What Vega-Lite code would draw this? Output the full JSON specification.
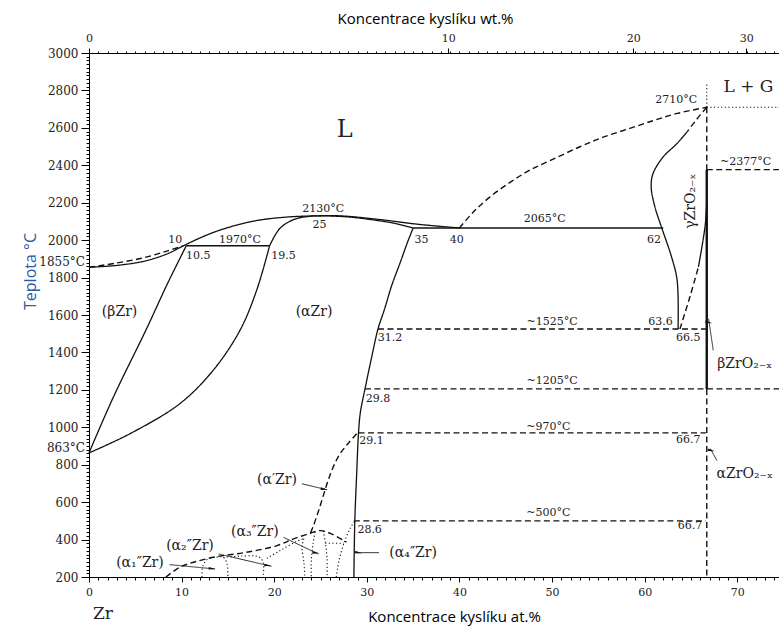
{
"$schema":"https://vega.github.io/schema/vega-lite/v6.json",
"width":690,"height":524,"autosize":"none",
"padding":{"left":89,"top":53,"right":0,"bottom":53},
"background":"white",
"config":{"view":{"stroke":null},"axis":{"grid":false,"domainColor":"#000","tickColor":"#000","labelFont":"DejaVu Serif","labelColor":"#222","titleFont":"Open Sans","titleFontWeight":"normal","titleColor":"#000","labelOverlap":false,"labelBound":false}},
"datasets":{
"lines":[
{"id":"liq0","s":"dashed","x":0,"T":1855,"o":1},{"id":"liq0","s":"dashed","x":3,"T":1878,"o":2},{"id":"liq0","s":"dashed","x":6,"T":1907,"o":3},{"id":"liq0","s":"dashed","x":8.5,"T":1943,"o":4},{"id":"liq0","s":"dashed","x":10.2,"T":1970,"o":5},
{"id":"liqA","s":"solid","x":0,"T":1855,"o":1},{"id":"liqA","s":"solid","x":3,"T":1865,"o":2},{"id":"liqA","s":"solid","x":6,"T":1888,"o":3},{"id":"liqA","s":"solid","x":8.5,"T":1928,"o":4},{"id":"liqA","s":"solid","x":10.2,"T":1970,"o":5},{"id":"liqA","s":"solid","x":12,"T":2012,"o":6},{"id":"liqA","s":"solid","x":14.1,"T":2053,"o":7},{"id":"liqA","s":"solid","x":17.7,"T":2101,"o":8},{"id":"liqA","s":"solid","x":21,"T":2122,"o":9},{"id":"liqA","s":"solid","x":24,"T":2129,"o":10},{"id":"liqA","s":"solid","x":27,"T":2130,"o":11},{"id":"liqA","s":"solid","x":31.4,"T":2110,"o":12},{"id":"liqA","s":"solid","x":35.5,"T":2085,"o":13},{"id":"liqA","s":"solid","x":40,"T":2065,"o":14},
{"id":"solA","s":"solid","x":19.5,"T":1970,"o":1},{"id":"solA","s":"solid","x":20.6,"T":2062,"o":2},{"id":"solA","s":"solid","x":22.1,"T":2110,"o":3},{"id":"solA","s":"solid","x":23.9,"T":2128,"o":4},{"id":"solA","s":"solid","x":25,"T":2130,"o":5},{"id":"solA","s":"solid","x":28,"T":2124,"o":6},{"id":"solA","s":"solid","x":31,"T":2106,"o":7},{"id":"solA","s":"solid","x":33,"T":2090,"o":8},{"id":"solA","s":"solid","x":35,"T":2065,"o":9},
{"id":"betaU","s":"solid","x":0,"T":863,"o":1},{"id":"betaU","s":"solid","x":2.6,"T":1158,"o":2},{"id":"betaU","s":"solid","x":6.2,"T":1525,"o":3},{"id":"betaU","s":"solid","x":8.4,"T":1760,"o":4},{"id":"betaU","s":"solid","x":10.5,"T":1970,"o":5},
{"id":"betaL","s":"solid","x":0,"T":863,"o":1},{"id":"betaL","s":"solid","x":4.4,"T":965,"o":2},{"id":"betaL","s":"solid","x":9.8,"T":1126,"o":3},{"id":"betaL","s":"solid","x":13.4,"T":1304,"o":4},{"id":"betaL","s":"solid","x":16.3,"T":1518,"o":5},{"id":"betaL","s":"solid","x":18.1,"T":1732,"o":6},{"id":"betaL","s":"solid","x":19.5,"T":1970,"o":7},
{"id":"alphaR","s":"solid","x":35,"T":2065,"o":1},{"id":"alphaR","s":"solid","x":34.4,"T":1990,"o":2},{"id":"alphaR","s":"solid","x":33.6,"T":1880,"o":3},{"id":"alphaR","s":"solid","x":32.7,"T":1760,"o":4},{"id":"alphaR","s":"solid","x":31.9,"T":1630,"o":5},{"id":"alphaR","s":"solid","x":31.2,"T":1525,"o":6},{"id":"alphaR","s":"solid","x":30.5,"T":1370,"o":7},{"id":"alphaR","s":"solid","x":29.8,"T":1205,"o":8},{"id":"alphaR","s":"solid","x":29.3,"T":1080,"o":9},{"id":"alphaR","s":"solid","x":29.1,"T":970,"o":10},{"id":"alphaR","s":"solid","x":28.9,"T":750,"o":11},{"id":"alphaR","s":"solid","x":28.7,"T":500,"o":12},{"id":"alphaR","s":"solid","x":28.6,"T":200,"o":13},
{"id":"h1970","s":"solid","x":10.5,"T":1970,"o":1},{"id":"h1970","s":"solid","x":19.5,"T":1970,"o":2},
{"id":"h2065","s":"solid","x":35,"T":2065,"o":1},{"id":"h2065","s":"solid","x":62,"T":2065,"o":2},
{"id":"h1525","s":"dashed","x":31.2,"T":1525,"o":1},{"id":"h1525","s":"dashed","x":66.6,"T":1525,"o":2},
{"id":"h1205","s":"dashed","x":29.8,"T":1205,"o":1},{"id":"h1205","s":"dashed","x":74.5,"T":1205,"o":2},
{"id":"h970","s":"dashed","x":29.1,"T":970,"o":1},{"id":"h970","s":"dashed","x":66.6,"T":970,"o":2},
{"id":"h500","s":"dashed","x":28.6,"T":500,"o":1},{"id":"h500","s":"dashed","x":66.6,"T":500,"o":2},
{"id":"h2377","s":"dashed","x":66.7,"T":2377,"o":1},{"id":"h2377","s":"dashed","x":74.5,"T":2377,"o":2},
{"id":"h2710","s":"dotted","x":66.7,"T":2710,"o":1},{"id":"h2710","s":"dotted","x":74.5,"T":2710,"o":2},
{"id":"vtop","s":"dotted","x":66.7,"T":2710,"o":1},{"id":"vtop","s":"dotted","x":66.7,"T":2840,"o":2},
{"id":"liqR","s":"dashed","x":40,"T":2065,"o":1},{"id":"liqR","s":"dashed","x":41.5,"T":2150,"o":2},{"id":"liqR","s":"dashed","x":43.3,"T":2231,"o":3},{"id":"liqR","s":"dashed","x":45.5,"T":2310,"o":4},{"id":"liqR","s":"dashed","x":47.6,"T":2374,"o":5},{"id":"liqR","s":"dashed","x":50,"T":2430,"o":6},{"id":"liqR","s":"dashed","x":53,"T":2499,"o":7},{"id":"liqR","s":"dashed","x":55.5,"T":2550,"o":8},{"id":"liqR","s":"dashed","x":58.4,"T":2597,"o":9},{"id":"liqR","s":"dashed","x":61,"T":2640,"o":10},{"id":"liqR","s":"dashed","x":63.5,"T":2677,"o":11},{"id":"liqR","s":"dashed","x":66.7,"T":2710,"o":12},
{"id":"gLd","s":"dashed","x":66.7,"T":2710,"o":1},{"id":"gLd","s":"dashed","x":65.6,"T":2645,"o":2},{"id":"gLd","s":"dashed","x":64.6,"T":2580,"o":3},
{"id":"gL","s":"solid","x":64.6,"T":2580,"o":1},{"id":"gL","s":"solid","x":63.5,"T":2517,"o":2},{"id":"gL","s":"solid","x":62.0,"T":2445,"o":3},{"id":"gL","s":"solid","x":60.9,"T":2356,"o":4},{"id":"gL","s":"solid","x":60.7,"T":2285,"o":5},{"id":"gL","s":"solid","x":61.1,"T":2178,"o":6},{"id":"gL","s":"solid","x":61.8,"T":2071,"o":7},{"id":"gL","s":"solid","x":62.9,"T":1910,"o":8},{"id":"gL","s":"solid","x":63.5,"T":1786,"o":9},{"id":"gL","s":"solid","x":63.6,"T":1525,"o":10},
{"id":"gRd","s":"dashed","x":63.8,"T":1525,"o":1},{"id":"gRd","s":"dashed","x":64.9,"T":1700,"o":2},{"id":"gRd","s":"dashed","x":65.8,"T":1857,"o":3},
{"id":"gR","s":"solid","x":65.8,"T":1857,"o":1},{"id":"gR","s":"solid","x":66.3,"T":2000,"o":2},{"id":"gR","s":"solid","x":66.55,"T":2089,"o":3},{"id":"gR","s":"solid","x":66.7,"T":2200,"o":4},
{"id":"v1","s":"dashed","x":66.7,"T":2710,"o":1},{"id":"v1","s":"dashed","x":66.7,"T":2377,"o":2},
{"id":"v2","s":"thick","x":66.7,"T":2377,"o":1},{"id":"v2","s":"thick","x":66.7,"T":1205,"o":2},
{"id":"v3","s":"dashed","x":66.7,"T":1205,"o":1},{"id":"v3","s":"dashed","x":66.7,"T":200,"o":2},
{"id":"A","s":"dashed","x":8.3,"T":200,"o":1},{"id":"A","s":"dashed","x":9.8,"T":252,"o":2},{"id":"A","s":"dashed","x":11.3,"T":279,"o":3},{"id":"A","s":"dashed","x":13.8,"T":309,"o":4},{"id":"A","s":"dashed","x":17.0,"T":332,"o":5},{"id":"A","s":"dashed","x":20.3,"T":368,"o":6},{"id":"A","s":"dashed","x":22.1,"T":404,"o":7},{"id":"A","s":"dashed","x":23.9,"T":434,"o":8},{"id":"A","s":"dashed","x":25.0,"T":448,"o":9},{"id":"A","s":"dashed","x":26.2,"T":430,"o":10},{"id":"A","s":"dashed","x":27.8,"T":386,"o":11},
{"id":"ap","s":"dashed","x":28.9,"T":965,"o":1},{"id":"ap","s":"dashed","x":28.0,"T":915,"o":2},{"id":"ap","s":"dashed","x":27.1,"T":858,"o":3},{"id":"ap","s":"dashed","x":26.3,"T":780,"o":4},{"id":"ap","s":"dashed","x":25.7,"T":698,"o":5},{"id":"ap","s":"dashed","x":24.8,"T":555,"o":6},{"id":"ap","s":"dashed","x":24.2,"T":470,"o":7},{"id":"ap","s":"dashed","x":23.9,"T":434,"o":8},
{"id":"D1","s":"dotted","x":12.2,"T":200,"o":1},{"id":"D1","s":"dotted","x":12.3,"T":260,"o":2},{"id":"D1","s":"dotted","x":12.8,"T":295,"o":3},{"id":"D1","s":"dotted","x":13.6,"T":305,"o":4},{"id":"D1","s":"dotted","x":14.5,"T":305,"o":5},{"id":"D1","s":"dotted","x":14.9,"T":270,"o":6},{"id":"D1","s":"dotted","x":15.0,"T":200,"o":7},
{"id":"D2","s":"dotted","x":14.5,"T":305,"o":1},{"id":"D2","s":"dotted","x":16.5,"T":312,"o":2},{"id":"D2","s":"dotted","x":18.3,"T":308,"o":3},{"id":"D2","s":"dotted","x":18.8,"T":280,"o":4},{"id":"D2","s":"dotted","x":18.8,"T":200,"o":5},
{"id":"D3","s":"dotted","x":19.2,"T":300,"o":1},{"id":"D3","s":"dotted","x":20.6,"T":340,"o":2},{"id":"D3","s":"dotted","x":22.4,"T":390,"o":3},{"id":"D3","s":"dotted","x":23.2,"T":405,"o":4},
{"id":"D4","s":"dotted","x":23.2,"T":405,"o":1},{"id":"D4","s":"dotted","x":23.0,"T":360,"o":2},{"id":"D4","s":"dotted","x":23.2,"T":280,"o":3},{"id":"D4","s":"dotted","x":23.3,"T":200,"o":4},
{"id":"D5","s":"dotted","x":24.4,"T":440,"o":1},{"id":"D5","s":"dotted","x":24.2,"T":380,"o":2},{"id":"D5","s":"dotted","x":24.0,"T":290,"o":3},{"id":"D5","s":"dotted","x":24.0,"T":200,"o":4},
{"id":"D6","s":"dotted","x":25.3,"T":446,"o":1},{"id":"D6","s":"dotted","x":25.5,"T":390,"o":2},{"id":"D6","s":"dotted","x":25.7,"T":300,"o":3},{"id":"D6","s":"dotted","x":25.7,"T":200,"o":4},
{"id":"D7","s":"dotted","x":26.7,"T":200,"o":1},{"id":"D7","s":"dotted","x":27.0,"T":290,"o":2},{"id":"D7","s":"dotted","x":27.6,"T":390,"o":3},{"id":"D7","s":"dotted","x":28.2,"T":460,"o":4},{"id":"D7","s":"dotted","x":28.7,"T":500,"o":5},
{"id":"D8","s":"dotted","x":25.5,"T":380,"o":1},{"id":"D8","s":"dotted","x":27.5,"T":380,"o":2},
{"id":"a1","s":"arrow","x":8.7,"T":266,"o":1},{"id":"a1","s":"arrow","x":13.6,"T":243,"o":2},
{"id":"a2","s":"arrow","x":14.0,"T":323,"o":1},{"id":"a2","s":"arrow","x":19.7,"T":257,"o":2},
{"id":"a3","s":"arrow","x":21.0,"T":412,"o":1},{"id":"a3","s":"arrow","x":24.75,"T":323,"o":2},
{"id":"ap2","s":"arrow","x":23.0,"T":698,"o":1},{"id":"ap2","s":"arrow","x":25.7,"T":666,"o":2},
{"id":"a4","s":"arrow","x":31.3,"T":330,"o":1},{"id":"a4","s":"arrow","x":28.8,"T":330,"o":2},
{"id":"ab","s":"arrow","x":67.4,"T":1411,"o":1},{"id":"ab","s":"arrow","x":66.9,"T":1580,"o":2},
{"id":"aa","s":"arrow","x":67.8,"T":822,"o":1},{"id":"aa","s":"arrow","x":67.1,"T":885,"o":2}
],
"heads":[
{"id":"a1","x":13.3,"T":245},{"id":"a2","x":19.3,"T":262},{"id":"a3","x":24.5,"T":329},{"id":"ap2","x":25.4,"T":669},{"id":"a4","x":29.1,"T":330},{"id":"ab","x":66.93,"T":1560},{"id":"aa","x":67.2,"T":876}
],
"nums":[
{"t":"2710°C","x":63.4,"T":2749},{"t":"~2377°C","x":70.9,"T":2420},{"t":"2130°C","x":25.3,"T":2165},{"t":"25","x":24.9,"T":2080},{"t":"10","x":9.3,"T":2003},{"t":"10.5","x":11.8,"T":1914},{"t":"1970°C","x":16.3,"T":2000},{"t":"19.5","x":21.0,"T":1914},{"t":"35","x":35.9,"T":2003},{"t":"40","x":39.7,"T":2003},{"t":"2065°C","x":49.2,"T":2112},{"t":"62","x":61.0,"T":2000},{"t":"~1525°C","x":50.0,"T":1563},{"t":"31.2","x":32.5,"T":1477},{"t":"63.6","x":61.7,"T":1563},{"t":"66.5","x":64.7,"T":1477},{"t":"~1205°C","x":50.0,"T":1245},{"t":"29.8","x":31.2,"T":1153},{"t":"~970°C","x":49.6,"T":1004},{"t":"29.1","x":30.5,"T":925},{"t":"66.7","x":64.7,"T":930},{"t":"~500°C","x":49.6,"T":541},{"t":"28.6","x":30.3,"T":450},{"t":"66.7","x":64.9,"T":470}
],
"phases":[
{"t":"(βZr)","x":3.3,"T":1615},{"t":"(αZr)","x":24.3,"T":1615},{"t":"βZrO₂₋ₓ","x":70.8,"T":1340},{"t":"αZrO₂₋ₓ","x":70.8,"T":752},{"t":"(α′Zr)","x":20.3,"T":719},{"t":"(α₃″Zr)","x":17.9,"T":439},{"t":"(α₂″Zr)","x":10.9,"T":364},{"t":"(α₁″Zr)","x":5.5,"T":273},{"t":"(α₄″Zr)","x":35.0,"T":330}
],
"gamma":[{"t":"γZrO₂₋ₓ","x":65.0,"T":2208}],
"big":[{"t":"L","x":27.6,"T":2588}],
"lg":[{"t":"L  +  G","x":71.2,"T":2818}],
"side":[{"t":"1855°C","x":0,"T":1885},{"t":"863°C","x":0,"T":890}],
"zr":[{"t":"Zr","x":1.5,"T":0}],
"dummy":[{"x":0,"T":200}]
},
"layer":[
{"data":{"name":"lines"},
 "mark":{"type":"line","color":"#111","interpolate":"catmull-rom","strokeCap":"butt"},
 "encoding":{
  "x":{"field":"x","type":"quantitative","scale":{"domain":[0,74.5],"nice":false,"zero":false},"axis":{"orient":"bottom","values":[0,1,2,3,4,5,6,7,8,9,10,11,12,13,14,15,16,17,18,19,20,21,22,23,24,25,26,27,28,29,30,31,32,33,34,35,36,37,38,39,40,41,42,43,44,45,46,47,48,49,50,51,52,53,54,55,56,57,58,59,60,61,62,63,64,65,66,67,68,69,70,71,72,73,74],"labelExpr":"datum.value % 10 == 0 ? format(datum.value, 'd') : ''","tickSize":{"condition":{"test":"datum.value % 10 == 0","value":5},"value":3},"labelPadding":4,"labelFontSize":11,"labelFlush":false,"title":"Koncentrace kyslíku at.%","titleFontSize":15,"titleX":365,"titleY":39,"titleBaseline":"middle","titleAnchor":"middle"}},
  "y":{"field":"T","type":"quantitative","scale":{"domain":[200,3000],"nice":false,"zero":false},"axis":{"orient":"left","values":[200,220,240,260,280,300,320,340,360,380,400,420,440,460,480,500,520,540,560,580,600,620,640,660,680,700,720,740,760,780,800,820,840,860,880,900,920,940,960,980,1000,1020,1040,1060,1080,1100,1120,1140,1160,1180,1200,1220,1240,1260,1280,1300,1320,1340,1360,1380,1400,1420,1440,1460,1480,1500,1520,1540,1560,1580,1600,1620,1640,1660,1680,1700,1720,1740,1760,1780,1800,1820,1840,1860,1880,1900,1920,1940,1960,1980,2000,2020,2040,2060,2080,2100,2120,2140,2160,2180,2200,2220,2240,2260,2280,2300,2320,2340,2360,2380,2400,2420,2440,2460,2480,2500,2520,2540,2560,2580,2600,2620,2640,2660,2680,2700,2720,2740,2760,2780,2800,2820,2840,2860,2880,2900,2920,2940,2960,2980,3000],"labelExpr":"datum.value % 200 == 0 ? format(datum.value, 'd') : ''","tickSize":{"condition":{"test":"datum.value % 200 == 0","value":8},"value":3},"labelPadding":3,"labelFontSize":12,"labelFlush":false,"title":"Teplota °C","titleColor":"#2e5c9e","titleFontSize":16,"titleAngle":270,"titleX":-59,"titleY":218,"titleBaseline":"middle","titleAnchor":"middle"}},
  "detail":{"field":"id"},
  "order":{"field":"o","type":"quantitative"},
  "strokeDash":{"field":"s","type":"nominal","scale":{"domain":["solid","dashed","dotted","thick","arrow"],"range":[[1,0],[6,3.5],[1.2,2.4],[1,0],[1,0]]},"legend":null},
  "strokeWidth":{"field":"s","type":"nominal","scale":{"type":"ordinal","domain":["solid","dashed","dotted","thick","arrow"],"range":[1.3,1.4,1.1,2.4,0.9]},"legend":null}
 }},
{"data":{"name":"heads"},
 "mark":{"type":"point","filled":true,"color":"#111","opacity":1,"size":50,"shape":"M0,-1L0.38,1L-0.38,1Z"},
 "encoding":{
  "x":{"field":"x","type":"quantitative","scale":{"domain":[0,74.5]},"axis":null},
  "y":{"field":"T","type":"quantitative","scale":{"domain":[200,3000]},"axis":null},
  "angle":{"field":"id","type":"nominal","scale":{"domain":["a1","a2","a3","ap2","a4","ab","aa"],"range":[95,103,115,103,270,351,330]},"legend":null}
 }},
{"data":{"name":"nums"},
 "mark":{"type":"text","font":"DejaVu Serif","fontSize":11,"color":"#222","baseline":"middle","align":"center"},
 "encoding":{"x":{"field":"x","type":"quantitative","scale":{"domain":[0,74.5]},"axis":null},"y":{"field":"T","type":"quantitative","scale":{"domain":[200,3000]},"axis":null},"text":{"field":"t"}}},
{"data":{"name":"phases"},
 "mark":{"type":"text","font":"DejaVu Serif","fontSize":14,"color":"#222","baseline":"middle","align":"center"},
 "encoding":{"x":{"field":"x","type":"quantitative","scale":{"domain":[0,74.5]},"axis":null},"y":{"field":"T","type":"quantitative","scale":{"domain":[200,3000]},"axis":null},"text":{"field":"t"}}},
{"data":{"name":"gamma"},
 "mark":{"type":"text","font":"DejaVu Serif","fontSize":14,"color":"#222","baseline":"middle","align":"center","angle":270},
 "encoding":{"x":{"field":"x","type":"quantitative","scale":{"domain":[0,74.5]},"axis":null},"y":{"field":"T","type":"quantitative","scale":{"domain":[200,3000]},"axis":null},"text":{"field":"t"}}},
{"data":{"name":"big"},
 "mark":{"type":"text","font":"DejaVu Serif","fontSize":24,"color":"#222","baseline":"middle","align":"center"},
 "encoding":{"x":{"field":"x","type":"quantitative","scale":{"domain":[0,74.5]},"axis":null},"y":{"field":"T","type":"quantitative","scale":{"domain":[200,3000]},"axis":null},"text":{"field":"t"}}},
{"data":{"name":"lg"},
 "mark":{"type":"text","font":"DejaVu Serif","fontSize":17,"color":"#222","baseline":"middle","align":"center"},
 "encoding":{"x":{"field":"x","type":"quantitative","scale":{"domain":[0,74.5]},"axis":null},"y":{"field":"T","type":"quantitative","scale":{"domain":[200,3000]},"axis":null},"text":{"field":"t"}}},
{"data":{"name":"side"},
 "mark":{"type":"text","font":"DejaVu Serif","fontSize":12,"color":"#222","baseline":"middle","align":"right","dx":-4},
 "encoding":{"x":{"field":"x","type":"quantitative","scale":{"domain":[0,74.5]},"axis":null},"y":{"field":"T","type":"quantitative","scale":{"domain":[200,3000]},"axis":null},"text":{"field":"t"}}},
{"data":{"name":"zr"},
 "mark":{"type":"text","font":"DejaVu Serif","fontSize":17,"color":"#222","baseline":"middle","align":"center"},
 "encoding":{"x":{"field":"x","type":"quantitative","scale":{"domain":[0,74.5]},"axis":null},"y":{"field":"T","type":"quantitative","scale":{"domain":[200,3000]},"axis":null},"text":{"field":"t"}}},
{"data":{"name":"dummy"},
 "mark":{"type":"point","opacity":0},
 "encoding":{
  "x":{"field":"x","type":"quantitative","scale":{"domain":[0,74.5]},"axis":{"orient":"top","values":[0,1,2,3,4,5,6,7,8,9,10,11,12,13,14,15,16,17,18,19,20,21,22,23,24,25,26,27,28,29,30,31,32,33,34,35,36,37,38,38.78,39,40,41,42,43,44,45,46,47,48,49,50,51,52,53,54,55,56,57,58,58.77,59,60,61,62,63,64,65,66,67,68,69,70,70.96,71,72,73,74],"labelExpr":"datum.value == 0 ? '0' : datum.value == 38.78 ? '10' : datum.value == 58.77 ? '20' : datum.value == 70.96 ? '30' : ''","tickSize":{"condition":{"test":"datum.value == 0 || datum.value == 38.78 || datum.value == 58.77 || datum.value == 70.96","value":5},"value":2},"labelPadding":5,"labelFontSize":11,"labelFlush":false,"title":"Koncentrace kyslíku wt.%","titleFontSize":15,"titleX":336,"titleY":-35,"titleBaseline":"middle","titleAnchor":"middle"}},
  "y":{"field":"T","type":"quantitative","scale":{"domain":[200,3000]},"axis":null}
 }}
],
"resolve":{"axis":{"x":"independent","y":"independent"}}
}
